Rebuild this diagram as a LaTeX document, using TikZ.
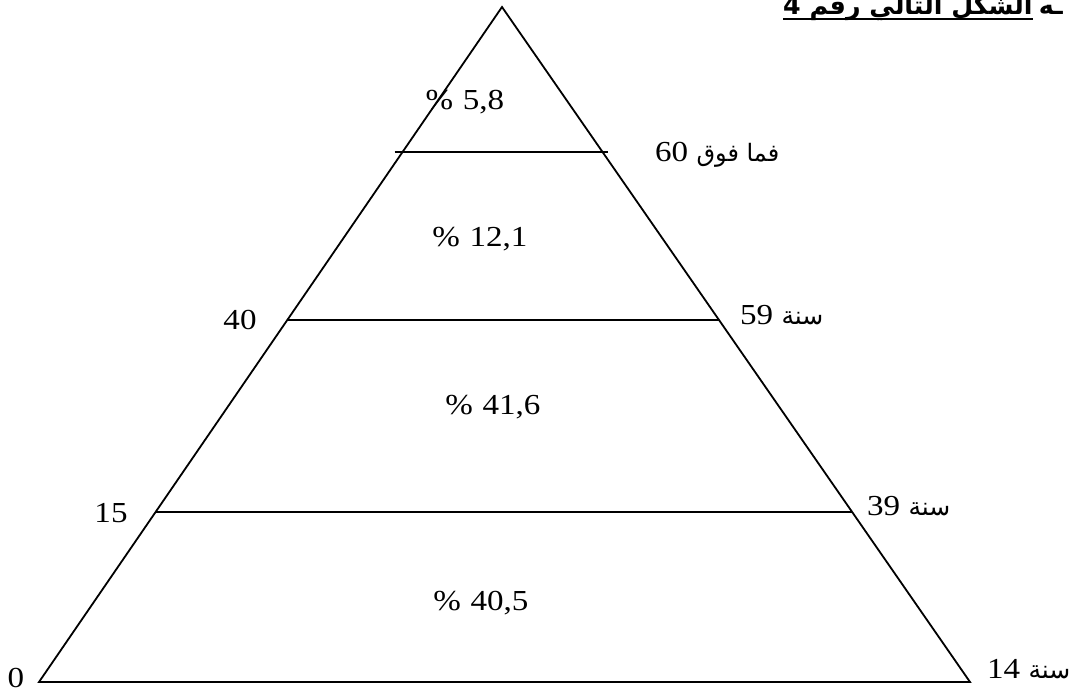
\documentclass[tikz,border=0pt]{standalone}
\usepackage{fontspec}
\setmainfont[FakeStretch=1.14]{Liberation Serif}
\newfontfamily\arabicfont[Script=Arabic]{DejaVu Sans}
\TeXXeTstate=1
\usetikzlibrary{calc}
\begin{document}
\begin{tikzpicture}[x=1pt,y=-1pt,
  edge/.style={line width=1.8pt, line join=miter},
  band/.style={line width=1.4pt},
  num/.style={font=\fontsize{29}{34}\selectfont, inner sep=0pt, anchor=base},
  lab/.style={font=\fontsize{29}{34}\selectfont, inner sep=0pt, anchor=base west},
  headfont/.style={font=\arabicfont\bfseries\fontsize{25.3}{30}\selectfont, inner sep=0pt, anchor=base west},
]
\useasboundingbox (0,0) rectangle (1071,692);
\coordinate (A) at (502,7);
\coordinate (BL) at (39,682);
\coordinate (BR) at (970,682);
\draw[edge] (A) -- (BL) -- (BR) -- cycle;
% band lines
\coordinate (L1) at ($(A)!0.2148!(BL)+(-8,0)$);
\coordinate (R1) at ($(A)!0.2148!(BR)+(5,0)$);
\coordinate (L2) at ($(A)!0.4637!(BL)$);
\coordinate (R2) at ($(A)!0.4637!(BR)$);
\coordinate (L3) at ($(A)!0.748!(BL)$);
\coordinate (R3) at ($(A)!0.748!(BR)$);
\draw[band] (L1) -- (R1);
\draw[band] (L2) -- (R2);
\draw[band] (L3) -- (R3);
% percentages
\node[num] (p1) at (465,110) {\%\,\,5,8};
\node[num] (p2) at (480,247) {\%\,\,12,1};
\node[num] (p3) at (493,415) {\%\,\,41,6};
\node[num] (p4) at (481,610) {\%\,\,40,5};
% left ages
\node[num] (a40) at (240,330) {40};
\node[num] (a15) at (111,522) {15};
\node[num] (a0) at (16,687) {0};
% right ages
\node[lab] (r60) at (655,162) {60 {\arabicfont\fontsize{24}{28}\selectfont\beginR فما فوق\endR}};
\node[lab] (r59) at (740,325) {59 {\arabicfont\fontsize{25}{28}\selectfont\beginR سنة\endR}};
\node[lab] (r39) at (867,515) {39 {\arabicfont\fontsize{25}{28}\selectfont\beginR سنة\endR}};
\node[lab] (r14) at (987,678) {14 {\arabicfont\fontsize{25}{28}\selectfont\beginR سنة\endR}};
% heading (cut by the top edge, as in the reference)
\node[headfont] (head) at (783,15) {4 \beginR الشكل التالي رقم\endR};
\node[headfont] (headh) at ([xshift=6pt]head.base east) {\beginR ـه\endR};
\draw[line width=2.4pt] ([yshift=-4pt]head.base west) -- ([yshift=-4pt]head.base east);
\end{tikzpicture}
\end{document}
